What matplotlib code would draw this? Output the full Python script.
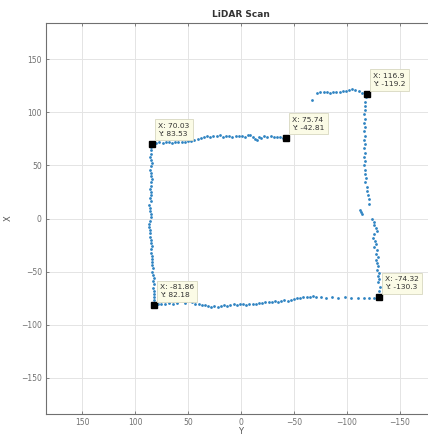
import matplotlib
matplotlib.use('Agg')
import matplotlib.pyplot as plt

# LiDAR scan points (X is vertical, Y horizontal)
left_x = [67, 64, 61, 58, 55, 52, 49, 46, 43, 40, 37, 34, 31, 28, 25, 22, 19, 16,
          13, 10, 7, 4, 1, -2, -5, -8, -11, -14, -17, -20, -23, -26, -29, -32, -35,
          -38, -41, -44, -47, -50, -53, -56, -59, -62, -65, -68, -71, -74, -77]
left_y = [84.5, 85, 84.5, 85.5, 85, 84, 85, 85.5, 84.5, 85, 84, 85, 84.5, 85.5,
          84.5, 85, 86, 85, 86.5, 85.5, 86, 85, 84.5, 85.5, 86.5, 87, 86, 85.5, 86,
          84.5, 85, 84, 85, 84.5, 83.5, 84, 83.5, 84, 83, 83.5, 83, 82.5, 83, 82.5,
          83, 82, 82.5, 82, 82.5]

top_y = [80, 77, 74, 71, 68, 65, 62, 59, 56, 53, 50, 47, 44, 41, 38, 35, 32, 29,
         26, 23, 20, 17, 14, 11, 8, 5, 2, -1, -4, -7, -9, -11, -13, -15, -17, -19,
         -22, -25, -28, -31, -34, -37, -40]
top_x = [71.5, 71.8, 71.5, 72, 71.6, 71.5, 71.8, 72, 71.7, 72, 72.5, 73, 73.5,
         74.5, 76, 76.5, 77.5, 77, 78, 77.5, 78.5, 77, 78, 77.5, 77, 78, 77.5,
         78, 77, 78.5, 79, 77, 75, 74, 76.5, 75.5, 78, 77, 77.5, 76.5, 77, 76.5, 76]

tr_y = [-67, -72, -75, -78, -81, -84, -87, -90, -93, -96, -99, -102, -105, -108,
        -111, -114, -117]
tr_x = [111.6, 118.5, 118.8, 119.5, 119, 118.5, 119.2, 118.8, 119.5, 120, 119.8,
        120.5, 121.5, 121, 120, 118.5, 117.5]

right_x = [114, 110, 106, 102, 98, 94, 90, 86, 82, 78, 74, 70, 66, 62, 58, 54, 50,
           46, 42, 38, 34, 30, 26, 22, 18, 14, 8, 6, 4, 0, -3, -6, -9, -12, -15,
           -18, -21, -24, -27, -30, -33, -36, -39, -42, -45, -48, -51, -54, -57,
           -60, -64, -68, -72]
right_y = [-118, -117.5, -117, -117.5, -116.5, -117, -116.5, -117.5, -116.5, -117,
           -116, -117, -116.5, -117, -116, -117, -116.5, -117.5, -117, -118,
           -117.5, -118.5, -119, -120, -121, -120.5, -112, -113, -114.5, -124,
           -125.5, -126, -127, -128, -126, -125, -126.5, -127.5, -126, -128, -127,
           -129, -127.5, -128.5, -129.5, -128, -130, -129, -130.5, -129, -131,
           -130, -130.5]

bottom_y = [78, 75, 72, 68, 64, 60, 53, 46, 43, 40, 37, 34, 31, 28, 25, 22, 19, 16,
            13, 10, 7, 4, 1, -2, -5, -8, -11, -14, -17, -20, -23, -26, -29, -32,
            -35, -38, -41, -44, -47, -50, -53, -56, -59, -62, -65, -68, -71, -76,
            -80, -86, -92, -98, -104, -110, -116, -121, -126]
bottom_x = [-80.5, -80, -80.2, -79.8, -80, -79.5, -79.8, -79, -80, -80.5, -81,
            -81.5, -82, -83, -82, -83.5, -82.5, -81.5, -82, -81, -80.5, -81, -80.5,
            -80, -81, -80.5, -80, -80.5, -79.5, -79.8, -79, -78.5, -79, -78, -78.5,
            -77.5, -77, -77.5, -76.5, -76, -75, -74.5, -74, -73.5, -74, -73, -73.5,
            -74, -74.5, -74.2, -74.5, -74, -74.8, -74.5, -75, -74.8, -74.5]

# data tips
tip_x = [70.03, 75.74, 116.9, -81.86, -74.32]
tip_y = [83.53, -42.81, -119.2, 82.18, -130.3]

ticks = [-150, -100, -50, 0, 50, 100, 150]

fig = plt.figure(figsize=(4.28, 4.37), dpi=100, facecolor='white')
ax = fig.add_axes([0.1075, 0.0526, 0.911, 0.8948])

blue = '#2f84c2'
for ys, xs in [(left_y, left_x), (top_y, top_x), (tr_y, tr_x),
               (right_y, right_x), (bottom_y, bottom_x)]:
    ax.plot(ys, xs, 'o', color=blue, ms=2.0, mec='none')

ax.plot(tip_y, tip_x, 's', color='black', ms=4.5, zorder=5)
for tx, ty in zip(tip_x, tip_y):
    ax.annotate(f'X: {tx:.4g}\nY: {ty:.4g}', xy=(ty, tx),
                xytext=(6, 7), textcoords='offset pixels',
                fontsize=5.4, color='#333333', linespacing=1.5,
                ha='left', va='bottom', zorder=6,
                bbox=dict(boxstyle='square,pad=0.45', fc='#fbfbe6',
                          ec='#d8d8c0', lw=0.6))

ax.set_xlim(184, -184)
ax.set_ylim(-184, 184)
ax.set_xticks(ticks)
ax.set_yticks(ticks)
ax.grid(True, color='#e4e4e4', lw=0.7)
ax.set_axisbelow(True)
ax.tick_params(direction='in', length=2.5, width=0.6, colors='#707070',
               labelsize=5.5, labelcolor='#707070', top=True, right=True, pad=3)
for s in ax.spines.values():
    s.set_color('#707070')
    s.set_linewidth(0.8)

ax.set_title('LiDAR Scan', fontsize=6.5, fontweight='bold', color='#333333', pad=4)
ax.set_xlabel('Y', fontsize=6, color='#555555', labelpad=0)
ax.set_ylabel('X', fontsize=6, color='#555555', labelpad=6)

fig.savefig('out.png', dpi=100)
